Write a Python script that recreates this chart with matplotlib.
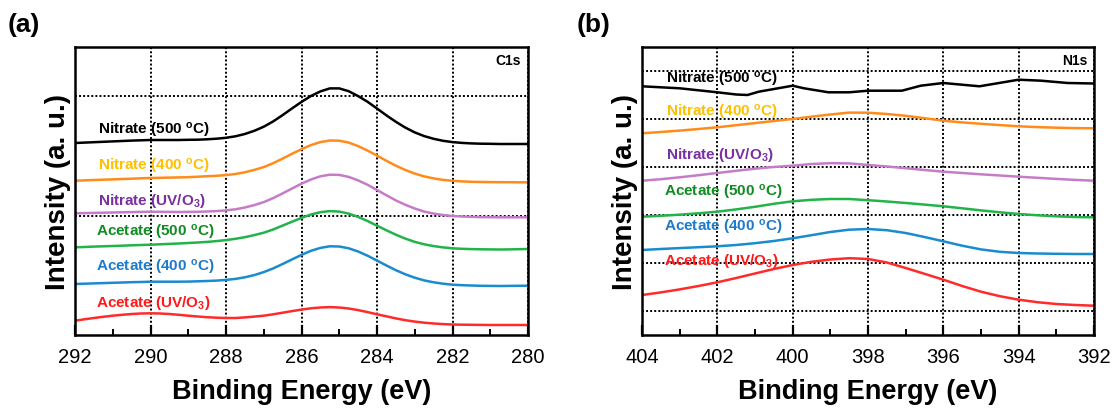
import matplotlib
matplotlib.use("Agg")
import matplotlib.pyplot as plt
import numpy as np

plt.rcParams['font.family'] = ['Liberation Sans', 'DejaVu Sans']
plt.rcParams['mathtext.fontset'] = 'custom'
plt.rcParams['mathtext.rm'] = 'Liberation Sans'
plt.rcParams['mathtext.bf'] = 'Liberation Sans:bold'
plt.rcParams['mathtext.it'] = 'Liberation Sans:italic'
plt.rcParams['mathtext.default'] = 'bf'

# ---------------- data: C1s (panel a) ----------------
c1s_energy = [292, 291.75, 291.5, 291.25, 291, 290.75, 290.5, 290.25, 290, 289.75, 289.5, 289.25,
              289, 288.75, 288.5, 288.25, 288, 287.75, 287.5, 287.25, 287, 286.75, 286.5, 286.25,
              286, 285.75, 285.5, 285.25, 285, 284.75, 284.5, 284.25, 284, 283.75, 283.5, 283.25,
              283, 282.75, 282.5, 282.25, 282, 281.75, 281.5, 281.25, 281, 280.75, 280.5, 280.25, 280]

c1s_nitrate_500 = [192.0, 192.4, 192.8, 193.2, 193.6, 194.0, 194.4, 194.7, 195.0, 195.0, 195.0, 195.0,
                   195.2, 195.3, 195.7, 196.3, 197.2, 198.7, 201.0, 204.2, 208.3, 213.6, 219.9, 226.6,
                   233.1, 239.0, 243.6, 246.6, 246.6, 243.8, 238.9, 233.2, 226.5, 219.6, 213.2, 207.4,
                   202.6, 198.9, 196.2, 194.2, 192.9, 192.1, 191.6, 191.3, 191.2, 191.0, 191.0, 191.0, 191.0]
c1s_nitrate_400 = [154.3, 154.6, 155.0, 155.3, 155.6, 156.0, 156.3, 156.7, 157.0, 157.2, 157.4, 157.6,
                   157.8, 158.3, 158.8, 159.2, 159.9, 161.0, 162.7, 165.1, 167.9, 171.8, 176.4, 181.2,
                   185.8, 189.9, 192.9, 194.5, 194.3, 192.4, 188.9, 184.4, 179.4, 174.2, 169.3, 165.0,
                   161.4, 158.6, 156.6, 155.1, 154.2, 153.6, 153.2, 153.0, 152.9, 152.8, 152.8, 152.7, 152.7]
c1s_nitrate_uvo3 = [121.7, 121.9, 122.1, 122.3, 122.5, 122.7, 122.9, 123.1, 123.3, 123.2, 123.1, 123.0,
                    123.1, 123.2, 123.5, 123.9, 124.6, 125.7, 127.5, 129.9, 132.9, 136.9, 141.6, 146.5,
                    151.3, 155.5, 158.7, 160.3, 160.1, 158.1, 154.6, 150.2, 145.0, 139.7, 134.6, 130.2,
                    126.5, 123.4, 121.4, 120.0, 119.0, 118.5, 118.2, 117.9, 117.8, 117.7, 117.7, 117.7, 117.7]
c1s_acetate_500 = [87.7, 88.0, 88.4, 88.7, 89.0, 89.3, 89.7, 90.0, 90.3, 90.7, 91.1, 91.5,
                   92.0, 92.5, 93.1, 93.9, 94.9, 96.2, 97.8, 99.9, 102.3, 105.5, 109.4, 113.3,
                   117.1, 120.5, 122.8, 123.9, 123.4, 121.4, 118.1, 114.0, 109.3, 104.7, 100.3, 96.4,
                   93.1, 90.7, 88.9, 87.6, 86.7, 86.2, 85.9, 85.7, 85.6, 85.5, 85.6, 85.8, 86.0]
c1s_acetate_400 = [51.0, 51.3, 51.6, 51.9, 52.2, 52.5, 52.8, 53.0, 53.3, 53.3, 53.3, 53.3,
                   53.4, 53.7, 54.0, 54.4, 55.1, 56.1, 57.7, 59.9, 62.9, 66.6, 71.0, 75.6,
                   80.1, 84.2, 87.1, 88.7, 88.5, 86.7, 83.5, 79.3, 74.4, 69.5, 64.8, 60.7,
                   57.3, 54.6, 52.7, 51.3, 50.3, 49.8, 49.5, 49.2, 49.1, 49.0, 49.1, 49.2, 49.3]
c1s_acetate_uvo3 = [14.3, 15.7, 17.0, 18.2, 19.3, 20.2, 21.0, 21.5, 21.7, 21.5, 21.0, 20.2,
                    19.3, 18.5, 17.8, 17.3, 17.0, 17.0, 17.6, 18.4, 19.3, 20.7, 22.3, 23.9,
                    25.4, 26.7, 27.5, 27.9, 27.5, 26.5, 24.9, 22.9, 20.7, 18.7, 16.6, 14.8,
                    13.4, 12.3, 11.5, 10.9, 10.5, 10.3, 10.2, 10.1, 10.0, 10.0, 10.0, 10.0, 10.0]

# ---------------- data: N1s (panel b) ----------------
n1s_energy = [404, 403.5, 403, 402.5, 402, 401.5, 401, 400.5, 400, 399.5, 399, 398.5,
              398, 397.5, 397, 396.5, 396, 395.5, 395, 394.5, 394, 393.5, 393, 392.5, 392]
n1s_black_energy = [404, 403, 402, 401.5, 401.2, 400.9, 400, 399.7, 399.05, 398.5, 398, 397.1,
                    396.6, 396, 395.04, 394, 393.4, 392.7, 392]
n1s_nitrate_500 = [248.7, 246.7, 242.7, 240.5, 240.0, 243.3, 249.3, 246.7, 242.7, 242.7, 244.3, 244.3,
                   249.3, 252.0, 248.7, 255.3, 254.3, 252.0, 251.5]
n1s_nitrate_400 = [201.7, 203.0, 204.4, 206.0, 207.7, 209.8, 211.9, 214.0, 216.0, 218.3, 220.5, 222.4,
                   222.3, 221.0, 219.2, 216.8, 214.3, 212.6, 211.2, 209.9, 208.7, 207.9, 207.3, 206.9, 206.7]
n1s_nitrate_uvo3 = [154.3, 155.8, 157.7, 159.8, 162.0, 164.2, 166.3, 168.0, 169.3, 171.0, 171.8, 171.6,
                    170.0, 168.5, 166.8, 165.0, 163.3, 162.0, 160.7, 159.5, 158.3, 157.2, 156.1, 155.1, 154.3]
n1s_acetate_500 = [118.3, 119.2, 120.3, 121.7, 123.3, 125.6, 128.2, 131.2, 133.7, 135.2, 136.0, 136.0,
                   134.8, 133.5, 132.0, 130.4, 128.7, 126.7, 124.6, 122.7, 121.0, 119.7, 118.7, 118.0, 117.7]
n1s_acetate_400 = [85.0, 86.0, 86.9, 87.8, 88.7, 90.0, 91.8, 94.0, 96.7, 99.8, 103.0, 105.3,
                   106.0, 104.8, 102.0, 98.0, 93.7, 89.3, 85.6, 83.2, 82.0, 81.5, 81.2, 81.0, 81.0]
n1s_acetate_uvo3 = [40.0, 42.6, 45.6, 49.0, 52.7, 57.0, 61.5, 66.0, 70.0, 73.2, 75.5, 76.8,
                    76.0, 72.5, 67.0, 61.2, 55.3, 49.0, 43.3, 38.8, 35.3, 32.8, 31.0, 30.0, 29.3]

series_labels = ['Nitrate (500 $^{o}$C)', 'Nitrate (400 $^{o}$C)', 'Nitrate (UV/O$_{3}$)',
                 'Acetate (500 $^{o}$C)', 'Acetate (400 $^{o}$C)', 'Acetate (UV/O$_{3}$)']
line_colors = ['#000000', '#FF8C1A', '#C57CC8', '#22B34A', '#1A8BCF', '#FF2A2A']
text_colors = ['#000000', '#FFC000', '#7A2FA3', '#118C22', '#1E7BCB', '#FF1A1A']

c1s_label_x = [291.4, 291.4, 291.4, 291.45, 291.45, 291.45]
c1s_label_y = [206, 169.5, 135, 103.5, 68.5, 32.5]
n1s_label_x = [403.35, 403.35, 403.35, 403.42, 403.42, 403.42]
n1s_label_y = [256.5, 223.5, 181.5, 143.5, 108.5, 74.5]

c1s_xticks = [292, 290, 288, 286, 284, 282, 280]
n1s_xticks = [404, 402, 400, 398, 396, 394, 392]
c1s_ygrid = [119, 239.5]
n1s_ygrid = [24, 72, 120, 168, 216, 264.5]

fig = plt.figure(figsize=(11.18, 4.10), dpi=100)
ax_a = fig.add_axes([75 / 1118, 74 / 410, 453 / 1118, 288 / 410])
ax_b = fig.add_axes([642 / 1118, 74 / 410, 452 / 1118, 288 / 410])

def style_axis(ax, xmax, xmin, xticks, ygrid, title):
    ax.set_xlim(xmax, xmin)
    ax.set_ylim(0, 288)
    ax.set_xticks(xticks)
    ax.set_xticks([t - 1 for t in xticks[:-1]], minor=True)
    ax.set_yticks(ygrid)
    ax.tick_params(axis='y', length=0, labelleft=False)
    ax.tick_params(axis='x', which='major', direction='in', length=7, width=1.6, labelsize=14.5, pad=9)
    ax.tick_params(axis='x', which='minor', direction='in', length=4, width=1.4)
    ax.grid(True, which='major', color='black', linestyle=(0, (1, 1.1)), linewidth=1.4)
    ax.set_axisbelow(True)
    for s in ax.spines.values():
        s.set_linewidth(1.8)
    ax.set_xlabel('Binding Energy (eV)', fontsize=19.5, fontweight='bold', labelpad=8)
    ax.set_ylabel('Intensity (a. u.)', fontsize=20, fontweight='bold', labelpad=3)
    ax.text(0.985, 0.955, title, transform=ax.transAxes, ha='right', va='center',
            fontsize=10, fontweight='bold')

style_axis(ax_a, 292, 280, c1s_xticks, c1s_ygrid, 'C1s')
style_axis(ax_b, 404, 392, n1s_xticks, n1s_ygrid, 'N1s')

c1s_series = [c1s_nitrate_500, c1s_nitrate_400, c1s_nitrate_uvo3,
              c1s_acetate_500, c1s_acetate_400, c1s_acetate_uvo3]
for i, ys in enumerate(c1s_series):
    ax_a.plot(c1s_energy, ys, color=line_colors[i], lw=1.8, solid_joinstyle='round')
    ax_a.text(c1s_label_x[i], c1s_label_y[i], series_labels[i], color=text_colors[i],
              fontsize=11, fontweight='bold', ha='left', va='center')

n1s_series = [n1s_nitrate_500, n1s_nitrate_400, n1s_nitrate_uvo3,
              n1s_acetate_500, n1s_acetate_400, n1s_acetate_uvo3]
for i, ys in enumerate(n1s_series):
    xs = n1s_black_energy if i == 0 else n1s_energy
    ax_b.plot(xs, ys, color=line_colors[i], lw=1.8, solid_joinstyle='round')
    ax_b.text(n1s_label_x[i], n1s_label_y[i], series_labels[i], color=text_colors[i],
              fontsize=11, fontweight='bold', ha='left', va='center')

fig.text(8 / 1118, 1 - 25 / 410, '(a)', fontsize=19, fontweight='bold', ha='left', va='center')
fig.text(577 / 1118, 1 - 25 / 410, '(b)', fontsize=19, fontweight='bold', ha='left', va='center')

fig.savefig('out.png', dpi=100)
